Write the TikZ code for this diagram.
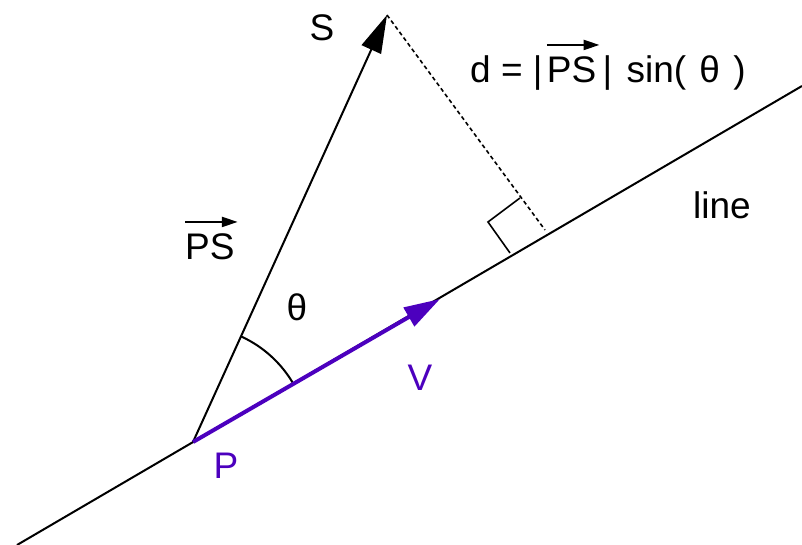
\documentclass[tikz,border=0pt]{standalone}
\usepackage{fontspec}
\setmainfont{Liberation Sans}
\usetikzlibrary{arrows.meta,calc}
\definecolor{vpurple}{RGB}{76,0,190}
\begin{document}
\begin{tikzpicture}[x=1pt,y=1pt,
  blk/.style={line width=2pt,black},
  lbl/.style={font=\fontsize{37}{44}\selectfont,inner sep=0pt},
  plbl/.style={lbl,text=vpurple},
  vecarrow/.style={line width=2.4pt,-{Triangle[length=16pt,width=10pt]}}]
\useasboundingbox (0,0) rectangle (802,545);
\coordinate (A) at (17,0);
\coordinate (B) at (802,459);
\coordinate (P) at (193,103);
\coordinate (S) at (387,530);
\coordinate (Vt) at (440,246);
\coordinate (F) at (545,315);
\coordinate (R1) at (510,292);
\coordinate (R2) at (488,323);
\coordinate (R3) at (520,347);
% the line
\draw[blk] (A) -- (B);
% PS vector
\draw[blk,-{Triangle[length=38pt,width=21pt]}] (P) -- (S);
% dashed perpendicular
\draw[line width=1.6pt,dash pattern=on 4pt off 3pt] (S) -- (F);
% right angle marker
\draw[line width=1.6pt] (R1) -- (R2) -- (R3);
% angle arc
\draw[line width=2pt] ($(P)+(30.5:116)$) arc[start angle=30.5,end angle=65.6,radius=116];
% V vector
\draw[line width=4pt,vpurple,-{Triangle[length=36pt,width=21pt]}] (P) -- (Vt);
% labels
\node[lbl] (Sl) at (322,517) {S};
\node[lbl] (linel) at (722,340) {line};
\node[lbl] (th) at (297,238) {θ};
\node[plbl] (Vl) at (420,167) {V};
\node[plbl] (Pl) at (226,79) {P};
\node[lbl,anchor=base west] (PSl) at (185,285) {PS};
\draw[vecarrow] ($(PSl.north west)+(0,12)$) -- ($(PSl.north east)+(3,12)$);
% formula
\node[lbl,anchor=base west] (f1) at (470,462) {d = |};
\node[lbl,anchor=base west] (f2) at ([xshift=4pt]f1.base east) {PS};
\node[lbl,anchor=base west] (f3) at ([xshift=6pt]f2.base east) {|\hspace{4pt} sin(\hspace{3pt} θ\hspace{3pt} )};
\draw[vecarrow] ($(f2.north west)+(0,12)$) -- ($(f2.north east)+(3,12)$);
\end{tikzpicture}
\end{document}
